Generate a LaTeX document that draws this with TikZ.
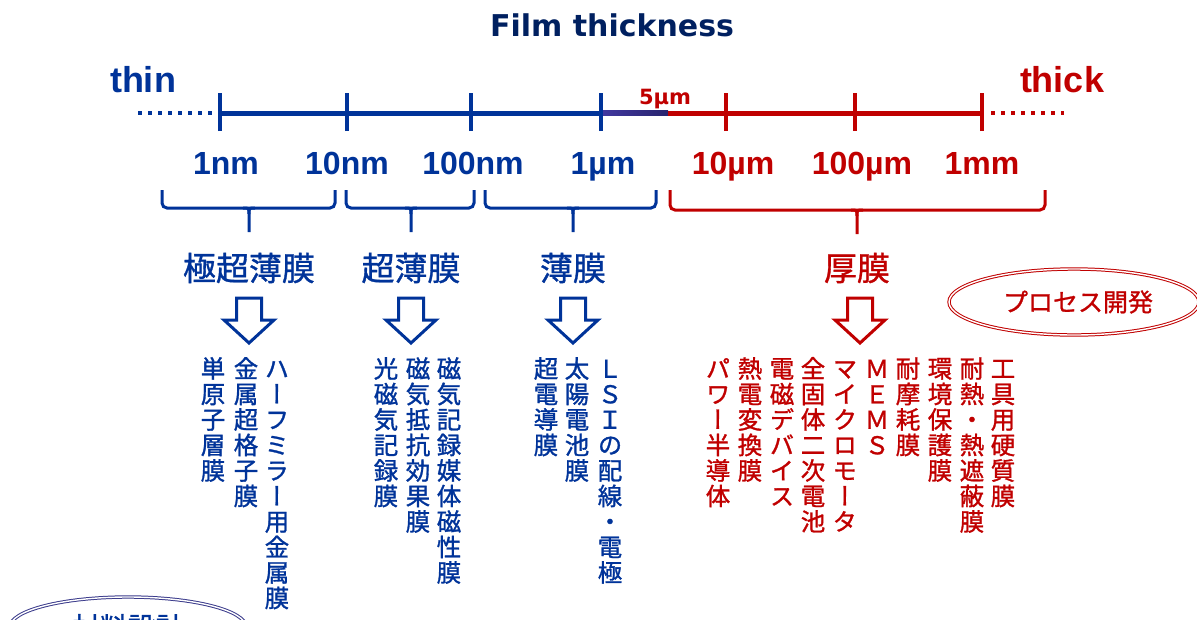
\documentclass[tikz,border=0pt]{standalone}
\usepackage{fontspec}
\usetikzlibrary{shapes.geometric}
\newfontfamily\jp[FakeBold=1.0]{Noto Sans CJK JP}
\newfontfamily\jpv[RawFeature=+vert,FakeBold=1.2]{Noto Sans CJK JP}
\newfontfamily\lab{Liberation Sans}
\newfontfamily\dv{DejaVu Sans}
\definecolor{bl}{RGB}{0,51,153}
\definecolor{rd}{RGB}{192,0,0}
\definecolor{navy}{RGB}{0,32,96}
\definecolor{pu}{RGB}{66,56,160}
\definecolor{pud}{RGB}{40,36,110}
\definecolor{elb}{RGB}{60,60,140}
\ExplSyntaxOn
\NewDocumentCommand\vtext{m}{
  \vtop{\baselineskip=25.5pt \lineskiplimit=-100pt
    \tl_map_inline:nn {#1}{\hbox_to_wd:nn{1em}{\vrule~height~0.88em~depth~0.12em~width~0pt\hss ##1\hss}}}
}
\ExplSyntaxOff
\begin{document}
\begin{tikzpicture}[x=1pt,y=-1pt,
  axl/.style={font=\lab\bfseries\fontsize{32}{36}\selectfont, inner sep=0, anchor=base},
  cat/.style={font=\jp\fontsize{33}{36}\selectfont, inner sep=0},
  vt/.style={anchor=north, inner sep=0, font=\jpv\fontsize{24.5}{25.5}\selectfont},
  brc/.style={line width=3pt, rounded corners=5pt},
  spk/.style={line width=3pt},
  harr/.pic={\draw[line width=3pt, line join=miter] (-12.5,0) -- (12.5,0) -- (12.5,22) -- (25,22) -- (0,45) -- (-25,22) -- (-12.5,22) -- cycle;}
]
\useasboundingbox (0,0) rectangle (1197,619);
\clip (0,0) rectangle (1197,619);

% title
\node[font=\dv\bfseries\fontsize{30}{36}\selectfont, text=navy, inner sep=0] (title) at (612,25) {Film thickness};
\node[font=\lab\bfseries\fontsize{36}{40}\selectfont, text=bl, inner sep=0] (thin) at (143,80) {thin};
\node[font=\lab\bfseries\fontsize{36}{40}\selectfont, text=rd, inner sep=0] (thick) at (1062,80) {thick};

% axis
\coordinate (t1) at (220,113);
\coordinate (t2) at (347,113);
\coordinate (t3) at (471,113);
\coordinate (t4) at (601,113);
\coordinate (g1) at (668,113);
\coordinate (t5) at (726,113);
\coordinate (t6) at (855,113);
\coordinate (t7) at (982,113);
\coordinate (dl) at (138,113);
\coordinate (dr) at (1064,113);
\draw[bl, line width=4pt, dash pattern=on 4pt off 6pt] (dl) -- (t1);
\draw[rd, line width=4pt, dash pattern=on 4pt off 6pt] ([xshift=9pt]t7) -- (dr);
\draw[bl, line width=5pt] (t1) -- (t4);
\shade[left color=pu, right color=pud] ([yshift=-2.5pt]t4) rectangle ([yshift=2.5pt]g1);
\draw[rd, line width=5pt] (g1) -- (t7);
\foreach \t/\c in {t1/bl,t2/bl,t3/bl,t4/bl,t5/rd,t6/rd,t7/rd}
  \draw[\c, line width=4pt] ([yshift=-18pt]\t) -- ([yshift=20pt]\t);
\node[font=\dv\bfseries\fontsize{21}{24}\selectfont, text=rd, inner sep=0, anchor=base] (five) at (665,104) {5µm};

% axis labels
\node[axl, text=bl] (l1) at (226,174) {1nm};
\node[axl, text=bl] (l2) at (347,174) {10nm};
\node[axl, text=bl] (l3) at (473,174) {100nm};
\node[axl, text=bl] (l4) at (603,174) {1µm};
\node[axl, text=rd] (l5) at (733,174) {10µm};
\node[axl, text=rd] (l6) at (862,174) {100µm};
\node[axl, text=rd] (l7) at (982,174) {1mm};

% braces
\draw[brc, bl] (162,190) -- (162,208) -- (335,208) -- (335,190);
\draw[spk, bl] (243,208) .. controls (249,208) .. (249,214) -- (249,232);
\draw[spk, bl] (255,208) .. controls (249,208) .. (249,214);
\draw[brc, bl] (346,190) -- (346,208) -- (474,208) -- (474,190);
\draw[spk, bl] (405,208) .. controls (411,208) .. (411,214) -- (411,232);
\draw[spk, bl] (417,208) .. controls (411,208) .. (411,214);
\draw[brc, bl] (485,190) -- (485,208) -- (656,208) -- (656,190);
\draw[spk, bl] (567,208) .. controls (573,208) .. (573,214) -- (573,232);
\draw[spk, bl] (579,208) .. controls (573,208) .. (573,214);
\draw[brc, rd] (670,190) -- (670,210) -- (1045,210) -- (1045,190);
\draw[spk, rd] (851,210) .. controls (857,210) .. (857,216) -- (857,234);
\draw[spk, rd] (863,210) .. controls (857,210) .. (857,216);

% categories
\node[cat, text=bl] (c1) at (249,268) {極超薄膜};
\node[cat, text=bl] (c2) at (411,268) {超薄膜};
\node[cat, text=bl] (c3) at (573,268) {薄膜};
\node[cat, text=rd] (c4) at (857,268) {厚膜};

% hollow arrows
\pic[bl] at (249,298) {harr};
\pic[bl] at (411,298) {harr};
\pic[bl] at (573,298) {harr};
\pic[rd] at (860,298) {harr};

% vertical texts blue
\node[vt, text=bl] (v1) at (213,356) {\vtext{単原子層膜}};
\node[vt, text=bl] (v2) at (246,356) {\vtext{金属超格子膜}};
\node[vt, text=bl] (v3) at (277,356) {\vtext{ハーフミラー用金属膜}};
\node[vt, text=bl] (v4) at (386,356) {\vtext{光磁気記録膜}};
\node[vt, text=bl] (v5) at (418,356) {\vtext{磁気抵抗効果膜}};
\node[vt, text=bl] (v6) at (449,356) {\vtext{磁気記録媒体磁性膜}};
\node[vt, text=bl] (v7) at (546,356) {\vtext{超電導膜}};
\node[vt, text=bl] (v8) at (577,356) {\vtext{太陽電池膜}};
\node[vt, text=bl] (v9) at (610,356) {\vtext{ＬＳＩの配線・電極}};
% vertical texts red
\node[vt, text=rd] (r1) at (718,356) {\vtext{パワー半導体}};
\node[vt, text=rd] (r2) at (750,356) {\vtext{熱電変換膜}};
\node[vt, text=rd] (r3) at (782,356) {\vtext{電磁デバイス}};
\node[vt, text=rd] (r4) at (813,356) {\vtext{全固体二次電池}};
\node[vt, text=rd] (r5) at (845,356) {\vtext{マイクロモータ}};
\node[vt, text=rd] (r6) at (877,356) {\vtext{ＭＥＭＳ}};
\node[vt, text=rd] (r7) at (908,356) {\vtext{耐摩耗膜}};
\node[vt, text=rd] (r8) at (940,356) {\vtext{環境保護膜}};
\node[vt, text=rd] (r9) at (972,356) {\vtext{耐熱・熱遮蔽膜}};
\node[vt, text=rd] (r10) at (1003,356) {\vtext{工具用硬質膜}};

% ellipses
\node[ellipse, draw=rd, double, double distance=1.4pt, line width=1pt, minimum width=250pt, minimum height=66pt, inner sep=0,
      font=\jp\fontsize{25}{28}\selectfont, text=rd] (proc) at (1074,302) {\hspace*{8pt}プロセス開発};
\node[ellipse, draw=elb, double, double distance=1.4pt, line width=1pt, minimum width=236pt, minimum height=60pt, inner sep=0,
      font=\jp\fontsize{28}{30}\selectfont, text=bl] (mat) at (128,627) {材料設計};
\end{tikzpicture}
\end{document}
